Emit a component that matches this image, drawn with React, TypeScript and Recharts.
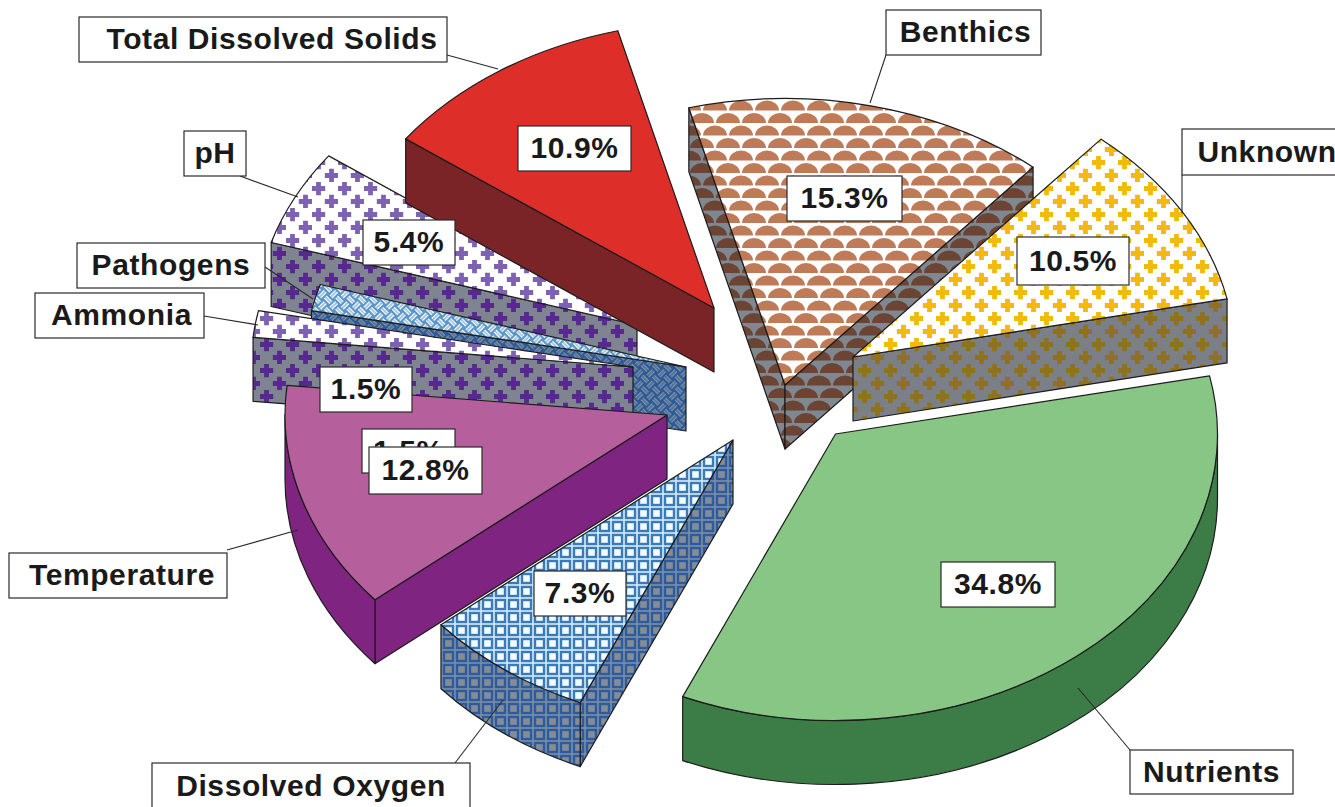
import React from 'react';
import { PieChart, Pie } from 'recharts';

// values, clockwise from the right hand side
const names = ['Nutrients', 'Dissolved Oxygen', 'Temperature', 'Ammonia', 'Pathogens', 'pH', 'Total Dissolved Solids', 'Benthics', 'Unknown'];
const values = [34.8, 7.3, 12.8, 1.5, 1.5, 5.4, 10.9, 15.3, 10.5];

const pieData = names.map((name, i) => ({ name, value: values[i] }));

const WIDTH = 1335;
const HEIGHT = 807;
const CX = 760;
const CY = 390;
const RADIUS = 382;
const TILT = 0.75; // vertical squash of the pie
const DEPTH = 64;
const START_ANGLE = 11.7;

// how far each slice is pulled out of the pie, in px
const explode: Record<string, [number, number]> = {
  Nutrients: [75.5, 44],
  'Dissolved Oxygen': [-27, 50],
  Temperature: [-93, 25],
  Ammonia: [-127, -23],
  Pathogens: [-74, -23],
  pH: [-123, -65],
  'Total Dissolved Solids': [-46, -82],
  Benthics: [25, -5],
  Unknown: [93, -33],
};

const sliceFill: Record<string, { top: string; wall: string }> = {
  Nutrients: { top: '#88c685', wall: '#3c7d47' },
  'Dissolved Oxygen': { top: 'url(#squaresTop)', wall: 'url(#squaresWall)' },
  Temperature: { top: '#b5609c', wall: '#7f2480' },
  Ammonia: { top: 'url(#plusPurpleTop)', wall: 'url(#plusPurpleWall)' },
  Pathogens: { top: 'url(#weaveTop)', wall: 'url(#weaveWall)' },
  pH: { top: 'url(#plusPurpleTop)', wall: 'url(#plusPurpleWall)' },
  'Total Dissolved Solids': { top: '#dd2e2a', wall: '#7b2427' },
  Benthics: { top: 'url(#scallopTop)', wall: 'url(#scallopWall)' },
  Unknown: { top: 'url(#plusYellowTop)', wall: 'url(#plusYellowWall)' },
};

// back to front
const drawOrder = ['pH', 'Pathogens', 'Ammonia', 'Total Dissolved Solids', 'Temperature', 'Dissolved Oxygen', 'Benthics', 'Unknown', 'Nutrients'];
const percentOrder = ['Pathogens', 'Ammonia', 'pH', 'Total Dissolved Solids', 'Benthics', 'Unknown', 'Nutrients', 'Dissolved Oxygen', 'Temperature'];

const percentBox: Record<string, [number, number, number, number]> = {
  Nutrients: [941, 562, 114, 45],
  'Dissolved Oxygen': [534, 571, 92, 45],
  Temperature: [369, 447, 113, 47],
  Ammonia: [320, 367, 92, 45],
  Pathogens: [362, 429, 93, 44],
  pH: [363, 220, 92, 45],
  'Total Dissolved Solids': [518, 126, 113, 45],
  Benthics: [787, 176, 115, 45],
  Unknown: [1017, 237, 112, 48],
};

const nameBox: Record<string, [number, number, number, number]> = {
  Nutrients: [1130, 750, 163, 44],
  'Dissolved Oxygen': [152, 763, 318, 46],
  Temperature: [9, 553, 218, 45],
  Ammonia: [35, 293, 169, 45],
  Pathogens: [77, 243, 188, 45],
  pH: [184, 131, 62, 45],
  'Total Dissolved Solids': [79, 17, 368, 45],
  Benthics: [886, 10, 155, 45],
  Unknown: [1182, 129, 170, 46],
};

// name text is not quite centred in its box in the original
const nameNudge: Record<string, number> = { 'Total Dissolved Solids': 9, Temperature: 4, Ammonia: 2, Benthics: 2 };

const leaders: Record<string, [number, number, number, number]> = {
  Nutrients: [1130, 750, 1078, 688],
  'Dissolved Oxygen': [455, 763, 503, 700],
  Temperature: [227, 550, 298, 530],
  Ammonia: [204, 316, 258, 325],
  Pathogens: [265, 267, 313, 299],
  pH: [240, 176, 298, 197],
  'Total Dissolved Solids': [447, 55, 498, 69],
  Benthics: [886, 55, 870, 103],
  Unknown: [1182, 175, 1182, 213],
};

const textStyle = {
  fontFamily: '"Liberation Sans", Arial, sans-serif',
  fontWeight: 700,
  fontSize: 30,
  letterSpacing: 0.6,
  fill: '#1a1a1a',
};
const edge = { stroke: '#1c1c1c', strokeWidth: 1.2, strokeLinejoin: 'round' as const };

const rad = (a: number) => (a * Math.PI) / 180;

const Wedge = ({ slice, startAngle, endAngle }: { slice: string; startAngle: number; endAngle: number }) => {
  const [dx, dy] = explode[slice];
  const ax = CX + dx;
  const ay = CY + dy;
  const a1 = -startAngle;
  const a2 = -endAngle;
  const ry = RADIUS * TILT;
  const px = (a: number) => ax + RADIUS * Math.cos(rad(a));
  const py = (a: number) => ay + ry * Math.sin(rad(a));
  const arc = (from: number, to: number, off: number, sweep: number) =>
    `A${RADIUS} ${ry} 0 ${Math.abs(to - from) > 180 ? 1 : 0} ${sweep} ${px(to)} ${py(to) + off}`;

  const fills = sliceFill[slice];
  const walls: React.ReactNode[] = [];

  const radial = (a: number, key: string) => (
    <path
      key={key}
      d={`M${ax} ${ay}L${px(a)} ${py(a)}L${px(a)} ${py(a) + DEPTH}L${ax} ${ay + DEPTH}Z`}
      fill={fills.wall}
      {...edge}
    />
  );
  if (Math.cos(rad(a1)) < 0) walls.push(radial(a1, 'w1'));
  if (Math.cos(rad(a2)) > 0) walls.push(radial(a2, 'w2'));

  // only the part of the rim that faces the viewer
  const from = Math.max(a1, 0);
  const to = Math.min(a2, 180);
  if (to > from) {
    walls.push(
      <path
        key="rim"
        d={`M${px(from)} ${py(from)}${arc(from, to, 0, 1)}L${px(to)} ${py(to) + DEPTH}${arc(to, from, DEPTH, 0)}Z`}
        fill={fills.wall}
        {...edge}
      />,
    );
  }

  return (
    <g>
      {walls}
      <path d={`M${ax} ${ay}L${px(a1)} ${py(a1)}${arc(a1, a2, 0, 1)}Z`} fill={fills.top} {...edge} />
    </g>
  );
};

const Box = ({ box, text, nudge = 0 }: { box: [number, number, number, number]; text: string; nudge?: number }) => (
  <g>
    <rect x={box[0]} y={box[1]} width={box[2]} height={box[3]} fill="#fff" stroke="#2a2a2a" strokeWidth={1.2} />
    <text x={box[0] + box[2] / 2 + nudge} y={box[1] + box[3] / 2 + 9.5} textAnchor="middle" style={textStyle}>
      {text}
    </text>
  </g>
);

const PLUS = 'M-2.4 -6.7H2.4V-2.4H6.7V2.4H2.4V6.7H-2.4V2.4H-6.7V-2.4H-2.4Z';

const PlusPattern = ({ id, bg, fg }: { id: string; bg: string; fg: string }) => (
  <pattern id={id} width={26} height={26} patternUnits="userSpaceOnUse">
    <rect width={26} height={26} fill={bg} />
    <path d={PLUS} fill={fg} transform="translate(6.5 6.5)" />
    <path d={PLUS} fill={fg} transform="translate(19.5 19.5)" />
  </pattern>
);

const ScallopPattern = ({ id, bg, fg }: { id: string; bg: string; fg: string }) => (
  <pattern id={id} width={26} height={25} patternUnits="userSpaceOnUse">
    <rect width={26} height={25} fill={bg} />
    <path d="M1 10.5A12 10 0 0 1 25 10.5Z" fill={fg} />
    <path d="M-12 23A12 10 0 0 1 12 23Z" fill={fg} />
    <path d="M14 23A12 10 0 0 1 38 23Z" fill={fg} />
  </pattern>
);

const SquaresPattern = ({ id, line, fg, inner }: { id: string; line: string; fg: string; inner: string }) => (
  <pattern id={id} width={13} height={13} patternUnits="userSpaceOnUse">
    <rect width={13} height={13} fill={line} />
    <rect x={0.8} y={0.8} width={11.4} height={11.4} fill={fg} />
    <rect x={3.2} y={3.2} width={6.6} height={6.6} fill={inner} />
  </pattern>
);

const WeavePattern = ({ id, bg, fg }: { id: string; bg: string; fg: string }) => (
  <pattern id={id} width={16} height={16} patternUnits="userSpaceOnUse" patternTransform="rotate(45)">
    <rect width={16} height={16} fill={bg} />
    <path
      d="M0 2.7H8M0 5.3H8M10.7 0V8M13.3 0V8M2.7 8V16M5.3 8V16M8 10.7H16M8 13.3H16"
      stroke={fg}
      strokeWidth={1.5}
      fill="none"
    />
  </pattern>
);

export default function App() {
  return (
    <div style={{ position: 'absolute', left: 0, top: 0, width: WIDTH, height: HEIGHT, background: '#fff', overflow: 'hidden' }}>
      <PieChart width={WIDTH} height={HEIGHT} margin={{ top: 0, right: 0, bottom: 0, left: 0 }}>
        <defs>
          <PlusPattern id="plusPurpleTop" bg="#fff" fg="#7d62b4" />
          <PlusPattern id="plusPurpleWall" bg="#7f8590" fg="#57288f" />
          <PlusPattern id="plusYellowTop" bg="#fff" fg="#f2b90f" />
          <PlusPattern id="plusYellowWall" bg="#7b8088" fg="#8f7220" />
          <ScallopPattern id="scallopTop" bg="#fff" fg="#bf7a57" />
          <ScallopPattern id="scallopWall" bg="#7f8790" fg="#6b4434" />
          <SquaresPattern id="squaresTop" line="#d5ecf7" fg="#3a7ab8" inner="#f2fbff" />
          <SquaresPattern id="squaresWall" line="#7d8da3" fg="#2c5c9e" inner="#858c96" />
          <WeavePattern id="weaveTop" bg="#5a95c8" fg="#fff" />
          <WeavePattern id="weaveWall" bg="#2a5a98" fg="#8491a3" />
        </defs>
        {drawOrder.map((slice) => (
          <Pie
            key={slice}
            data={pieData}
            dataKey="value"
            nameKey="name"
            cx={CX}
            cy={CY}
            innerRadius={0}
            outerRadius={RADIUS}
            startAngle={START_ANGLE}
            endAngle={START_ANGLE - 360}
            isAnimationActive={false}
            labelLine={false}
            shape={(props: any) =>
              props.name === slice ? <Wedge slice={slice} startAngle={props.startAngle} endAngle={props.endAngle} /> : <g />
            }
          />
        ))}
        {/* labels go in their own pie layers so they stay above the slices, in the original's stacking order */}
        {percentOrder.map((slice) => (
          <Pie
            key={`label-${slice}`}
            data={pieData}
            dataKey="value"
            nameKey="name"
            cx={CX}
            cy={CY}
            outerRadius={RADIUS}
            startAngle={START_ANGLE}
            endAngle={START_ANGLE - 360}
            isAnimationActive={false}
            labelLine={false}
            shape={(props: any) => {
              if (props.name !== slice) return <g />;
              const [x1, y1, x2, y2] = leaders[slice];
              return (
                <g>
                  <line x1={x1} y1={y1} x2={x2} y2={y2} stroke="#2a2a2a" strokeWidth={1.1} />
                  <Box box={nameBox[slice]} text={slice} nudge={nameNudge[slice] ?? 0} />
                  <Box box={percentBox[slice]} text={`${props.value}%`} />
                </g>
              );
            }}
          />
        ))}
      </PieChart>
    </div>
  );
}
